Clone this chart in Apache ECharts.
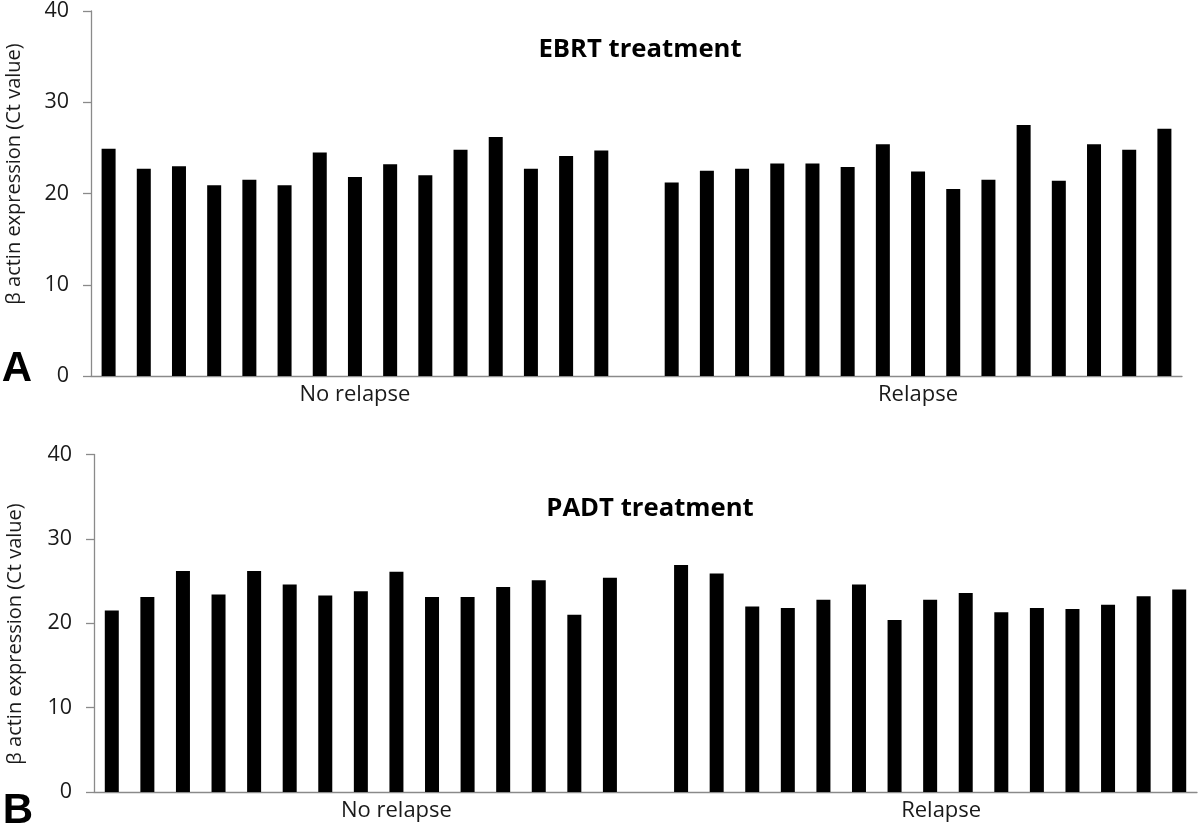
<!DOCTYPE html>
<html>
<head>
<meta charset="utf-8">
<script src="https://cdn.jsdelivr.net/npm/echarts@6/dist/echarts.min.js"></script>
<style>
html,body{margin:0;padding:0;background:#fff;}
#c{width:1200px;height:835px;}
</style>
</head>
<body>
<div id="c"></div>
<script>
// Ct values of beta actin
var ebrtNoRelapse = [24.9, 22.7, 23.0, 20.9, 21.5, 20.9, 24.5, 21.8, 23.2, 22.0, 24.8, 26.2, 22.7, 24.1, 24.7];
var ebrtRelapse   = [21.2, 22.5, 22.7, 23.3, 23.3, 22.9, 25.4, 22.4, 20.5, 21.5, 27.5, 21.4, 25.4, 24.8, 27.1];
var padtNoRelapse = [21.5, 23.1, 26.2, 23.4, 26.2, 24.6, 23.3, 23.8, 26.1, 23.1, 23.1, 24.3, 25.1, 21.0, 25.4];
var padtRelapse   = [26.9, 25.9, 22.0, 21.8, 22.8, 24.6, 20.4, 22.8, 23.6, 21.3, 21.8, 21.7, 22.2, 23.2, 24.0];
var groupLabels = ['No relapse', 'Relapse'];
var yTicks = [0, 10, 20, 30, 40];
var titles = ['EBRT treatment', 'PADT treatment'];
var panelLetters = ['A', 'B'];
var yTitle = 'β actin expression (Ct value)';

// one blank slot separates the two groups
function buildData(a, b) { return a.concat([null], b); }
function buildCats(n1, n2, idx1, idx2, shift2) {
  var cats = [];
  for (var i = 0; i < n1 + 1 + n2; i++) {
    if (i === idx2 && shift2) cats.push({ value: 's' + i, textStyle: { padding: [0, 0, 0, shift2 * 2] } });
    else cats.push('s' + i);
  }
  return { cats: cats, idx1: idx1, idx2: idx2 };
}
var topCats = buildCats(ebrtNoRelapse.length, ebrtRelapse.length, 7, 23, 0);
var botCats = buildCats(padtNoRelapse.length, padtRelapse.length, 8, 23, 11);

function labelFmt(info) {
  return function (val, i) {
    if (i === info.idx1) return groupLabels[0];
    if (i === info.idx2) return groupLabels[1];
    return '';
  };
}

var FONT = '"Open Sans", "Noto Sans", sans-serif';
var axisGray = '#8a8a8a';
var textCol = '#1a1a1a';

function xAxisCfg(gi, info) {
  return {
    type: 'category', gridIndex: gi, data: info.cats,
    axisLine: { lineStyle: { color: axisGray, width: 1.3 } },
    axisTick: { show: false },
    axisLabel: { interval: 0, formatter: labelFmt(info), color: textCol, fontSize: 22, fontFamily: FONT, margin: 8 },
    splitLine: { show: false }
  };
}
function yAxisCfg(gi) {
  return {
    type: 'value', gridIndex: gi, min: yTicks[0], max: yTicks[yTicks.length - 1], interval: 10,
    axisLine: { show: true, lineStyle: { color: axisGray, width: 1.3 } },
    axisTick: { show: true, length: 8, lineStyle: { color: axisGray, width: 1.3 } },
    axisLabel: { color: textCol, fontSize: 21.5, fontFamily: FONT, margin: 22 },
    splitLine: { show: false }
  };
}

var chart = echarts.init(document.getElementById('c'), null, { renderer: 'canvas' });
chart.setOption({
  animation: false,
  backgroundColor: '#ffffff',
  grid: [
    { left: 91, right: 18, top: 10.5, bottom: 459 },
    { left: 94, right: 3, top: 454.5, bottom: 43 }
  ],
  xAxis: [xAxisCfg(0, topCats), xAxisCfg(1, botCats)],
  yAxis: [yAxisCfg(0), yAxisCfg(1)],
  title: [
    { text: titles[0], left: 635, top: 32, textAlign: 'center', textStyle: { fontFamily: FONT, fontWeight: 'bold', fontSize: 25.7, color: '#000' } },
    { text: titles[1], left: 645, top: 491, textAlign: 'center', textStyle: { fontFamily: FONT, fontWeight: 'bold', fontSize: 25.7, color: '#000' } }
  ],
  graphic: [
    { type: 'text', x: 14, y: 174, rotation: Math.PI / 2, style: { text: yTitle, fill: textCol, font: '20px ' + FONT, textAlign: 'center', textVerticalAlign: 'middle' } },
    { type: 'text', x: 15, y: 634, rotation: Math.PI / 2, style: { text: yTitle, fill: textCol, font: '20px ' + FONT, textAlign: 'center', textVerticalAlign: 'middle' } },
    { type: 'text', x: 17, y: 369, style: { text: panelLetters[0], fill: '#000', font: 'bold 42px "Liberation Sans", Arial, sans-serif', textAlign: 'center', textVerticalAlign: 'middle' } },
    { type: 'text', x: 18, y: 811, style: { text: panelLetters[1], fill: '#000', font: 'bold 42px "Liberation Sans", Arial, sans-serif', textAlign: 'center', textVerticalAlign: 'middle' } }
  ],
  series: [
    { type: 'bar', xAxisIndex: 0, yAxisIndex: 0, data: buildData(ebrtNoRelapse, ebrtRelapse), barWidth: 14, itemStyle: { color: '#000' } },
    { type: 'bar', xAxisIndex: 1, yAxisIndex: 1, data: buildData(padtNoRelapse, padtRelapse), barWidth: 14, itemStyle: { color: '#000' } }
  ]
});
</script>
</body>
</html>
